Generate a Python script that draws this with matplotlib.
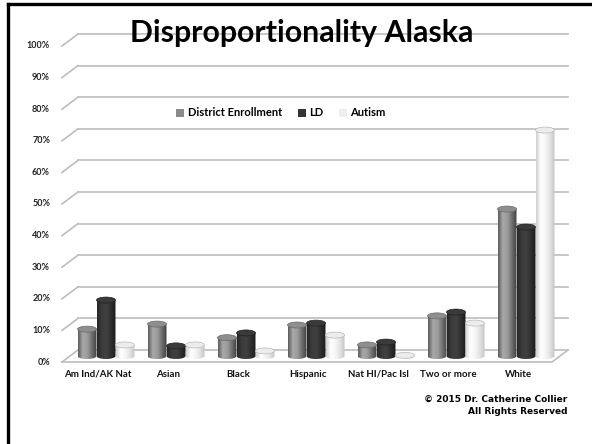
import numpy as np
import matplotlib
matplotlib.use('Agg')
from matplotlib import pyplot as plt
from matplotlib.colors import LinearSegmentedColormap
from matplotlib.patches import Ellipse, Patch
from matplotlib.path import Path
from matplotlib.lines import Line2D

# ------------ data (percent)
categories = ['Am Ind/AK Nat', 'Asian', 'Black', 'Hispanic', 'Nat HI/Pac Isl', 'Two or more', 'White']
district = [8.5, 10.1, 5.8, 9.8, 3.5, 12.7, 46.5]
ld = [17.7, 3.2, 7.3, 10.4, 4.4, 13.9, 40.8]
autism = [3.5, 3.5, 1.6, 6.6, 0.2, 10.4, 71.5]
series_names = ['District Enrollment', 'LD', 'Autism']
yticks = list(range(0, 101, 10))

W, H = 592, 444
plt.rcParams['font.family'] = ['Lato', 'DejaVu Sans']
fig = plt.figure(figsize=(W/100, H/100), dpi=100, facecolor='white')
ax = fig.add_axes([0, 0, 1, 1])
ax.axis('off')

# pixel calibration of the fake 3d box
X0_PX, X_STEP = 106, 70.0      # centre of first group, px per category
Y0_PX, Y_SCALE = 356, 3.16     # bar baseline, px per percent
dx = 8 / X_STEP                # half depth offset (x)
dy = 6 / Y_SCALE               # half depth offset (y)
left_front = (62 - X0_PX) / X_STEP
left_back = left_front + 2*dx
right_back = (568 - X0_PX) / X_STEP
right_front = right_back - 2*dx

grid_col = '#bdbdbd'
for v in yticks:
    ax.plot([left_front, left_back], [v - dy, v + dy], color=grid_col, lw=1.2, zorder=1)
    ax.plot([left_back, right_back], [v + dy, v + dy], color=grid_col, lw=1.2, zorder=1)
    ax.text((50 - X0_PX) / X_STEP, v - dy, f'{v}%', ha='right', va='center',
            fontsize=6.5, fontweight='bold', color='#222222')
# floor
ax.plot([left_front, right_front, right_back], [-dy, -dy, dy], color=grid_col, lw=1.2, zorder=1)

# ------------ cylinders
cmaps = [
    LinearSegmentedColormap.from_list('de', ['#5c5c5c', '#a8a8a8', '#9c9c9c', '#6c6c6c', '#404040']),
    LinearSegmentedColormap.from_list('ld', ['#262626', '#3c3c3c', '#404040', '#2e2e2e', '#1c1c1c']),
    LinearSegmentedColormap.from_list('au', ['#cfcfcf', '#ffffff', '#f6f6f6', '#e2e2e2', '#c4c4c4']),
]
tops = ['#8e8e8e', '#3a3a3a', '#ececec']
top_edges = ['#6a6a6a', '#202020', '#b8b8b8']
grad = np.linspace(0, 1, 64).reshape(1, -1)

bw = 19 / X_STEP
ey = dy / 2                    # ellipse semi-axis (3 px)
theta = np.linspace(np.pi, 2*np.pi, 40)
for s, vals in enumerate([district, ld, autism]):
    for i, v in enumerate(vals):
        xc = i + (s - 1) * bw
        x0, x1 = xc - bw/2, xc + bw/2
        verts = [(x0, v), (x0, 0)]
        verts += list(zip(xc + bw/2*np.cos(theta), ey*np.sin(theta)))
        verts += [(x1, v), (x0, v)]
        path = Path(verts)
        im = ax.imshow(grad, extent=[x0, x1, -ey, v], cmap=cmaps[s], aspect='auto',
                       interpolation='bilinear', zorder=3 + i*0.01 + s*0.001)
        im.set_clip_path(path, transform=ax.transData)
        ax.add_patch(Ellipse((xc, v), bw, 2*ey, facecolor=tops[s], edgecolor=top_edges[s],
                             lw=0.5, zorder=3.5 + i*0.01 + s*0.001))

for i, c in enumerate(categories):
    ax.text(i - dx, (356 - 374) / Y_SCALE, c, ha='center', va='center',
            fontsize=7, fontweight='bold', color='#111111')

ax.set_xlim(-X0_PX / X_STEP, (W - X0_PX) / X_STEP)
ax.set_ylim((Y0_PX - H) / Y_SCALE, Y0_PX / Y_SCALE)

# ------------ legend
handles = [Patch(facecolor=c, edgecolor='none') for c in ['#8a8a8a', '#333333', '#eeeeee']]
ax.legend(handles, series_names, loc='center', bbox_to_anchor=(281/W, 1 - 113/H),
          ncol=3, frameon=False, handlelength=0.75, handleheight=0.75, handletextpad=0.3,
          columnspacing=1.4, prop={'weight': 'bold', 'size': 8})

fig.text(302/W, 1 - 42/H, 'Disproportionality Alaska', ha='center', va='baseline',
         fontsize=21.8, fontweight='bold', color='black', zorder=10)
fig.text(567/W, 1 - 399/H, '\u00a9 2015 Dr. Catherine Collier', ha='right', va='center',
         fontsize=6.5, fontweight='bold', family='DejaVu Sans')
fig.text(567/W, 1 - 411/H, 'All Rights Reserved', ha='right', va='center',
         fontsize=6.5, fontweight='bold', family='DejaVu Sans')

# frame (left + top edge visible)
fig.add_artist(Line2D([7.5/W, 7.5/W], [0, 1 - 4.5/H], color='black', lw=2.4))
fig.add_artist(Line2D([7.5/W, 1], [1 - 4.5/H, 1 - 4.5/H], color='black', lw=2.4))

plt.savefig('out.png', dpi=100, facecolor='white')
